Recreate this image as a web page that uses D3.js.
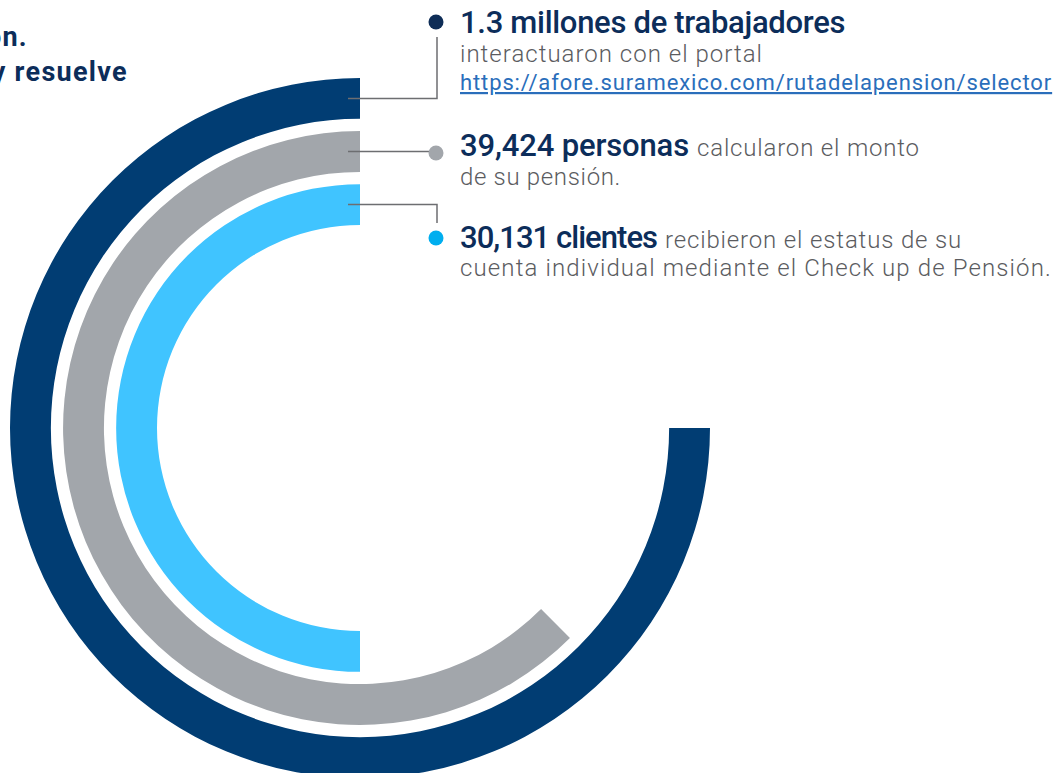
<!DOCTYPE html>
<html>
<head>
<meta charset="utf-8">
<script src="https://cdn.jsdelivr.net/npm/d3@7"></script>
<style>
  html, body { margin: 0; padding: 0; background: #fff; }
  svg { display: block; }
</style>
</head>
<body>
<svg id="chart" width="1056" height="773"></svg>
<script>
// rings, outer -> inner
const keys = ["trabajadores", "personas", "clientes"];
const sweeps = [0.75, 0.625, 0.5]; // share of a full turn
const ringColours = ["#013d73", "#a2a6ab", "#40c4ff"];
const dotColours = ["#0e2d57", "#a2a6ab", "#00aeef"];

const headlines = ["1.3 millones de trabajadores", "39,424 personas", "30,131 clientes"];
const leadIns = ["", "calcularon el monto", "recibieron el estatus de su"];
const secondLines = ["interactuaron con el portal", "de su pensión.", "cuenta individual mediante el Check up de Pensión."];
const link = "https://afore.suramexico.com/rutadelapension/selector";

const svg = d3.select("#chart");
const cx = 360, cy = 428;
const navy = "#0c2d5a", grey = "#5b5c5f";

const r = d3.scaleBand()
  .domain(keys.slice().reverse())
  .range([203, 350])
  .paddingInner(0.23)
  .paddingOuter(0);

const arc = d3.arc()
  .innerRadius(d => r(d.key))
  .outerRadius(d => r(d.key) + r.bandwidth())
  .startAngle(d => 2 * Math.PI * (1 - d.sweep))
  .endAngle(2 * Math.PI);

const rings = keys.map((k, i) => ({ key: k, sweep: sweeps[i], colour: ringColours[i], dot: dotColours[i] }));

const g = svg.append("g").attr("transform", `translate(${cx},${cy})`);
g.selectAll("path.ring")
  .data(rings)
  .join("path")
  .attr("class", "ring")
  .attr("fill", d => d.colour)
  .attr("d", arc);

// intro text, cut by the left edge as in the original layout
const intro = svg.append("g")
  .attr("font-family", "Roboto, sans-serif")
  .attr("font-weight", 700)
  .attr("fill", navy)
  .attr("font-size", 27)
  .attr("letter-spacing", 1.3)
  .attr("text-anchor", "end");
intro.append("text").attr("x", 28).attr("y", 46).text("usaron.");
intro.append("text").attr("x", 128).attr("y", 81).text("dudas y resuelve");

// callouts
const calloutX = 437, lineStart = 348;
const midY = k => -(r(k) + r.bandwidth() / 2);
const dotY = [-406, -275, -190];

const callouts = svg.append("g").attr("transform", `translate(${cx},${cy})`);
rings.forEach((d, i) => {
  const y = midY(d.key);
  const x0 = lineStart - cx, x1 = calloutX - cx;
  let pts;
  if (i === 1) pts = [[x0, y], [x1, y]];
  else pts = [[x0, y], [x1, y], [x1, dotY[i] + (i === 0 ? 15 : -15)]];
  callouts.append("path")
    .attr("fill", "none")
    .attr("stroke", "#6d6e71")
    .attr("stroke-width", 1.5)
    .attr("d", d3.line()(pts));
  callouts.append("circle")
    .attr("cx", x1 - 1)
    .attr("cy", dotY[i])
    .attr("r", 7.5)
    .attr("fill", d.dot);
});

// labels
const tx = 460;
const labels = svg.append("g").attr("font-family", "Roboto, sans-serif");

const fit = (sel, w) => {
  const n = sel.node();
  const len = n.getComputedTextLength();
  const chars = n.textContent.length;
  sel.attr("letter-spacing", ((w - len) / chars).toFixed(2));
  return sel;
};

const head = (txt, y, w) => fit(labels.append("text")
  .attr("x", tx).attr("y", y)
  .attr("font-size", 31).attr("font-weight", 500)
  .attr("fill", navy).text(txt), w);

const body = (txt, x, y, w) => fit(labels.append("text")
  .attr("x", x).attr("y", y)
  .attr("font-size", 24).attr("font-weight", 300)
  .attr("fill", grey).text(txt), w);

head(headlines[0], 33, 385);
body(secondLines[0], tx, 62, 303);
fit(labels.append("text")
  .attr("x", tx).attr("y", 90)
  .attr("font-size", 22).attr("font-weight", 400)
  .attr("fill", "#2a6ebb")
  .attr("text-decoration", "underline")
  .text(link), 592);

head(headlines[1], 156, 229);
body(leadIns[1], 697, 156, 223);
body(secondLines[1], tx, 185, 161);

head(headlines[2], 248, 197);
body(leadIns[2], 665, 248, 297);
body(secondLines[2], tx, 276, 592);
</script>
</body>
</html>
